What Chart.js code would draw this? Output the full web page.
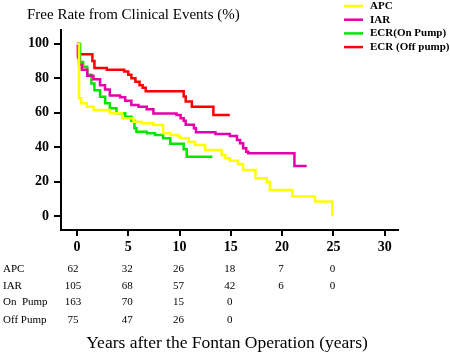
<!DOCTYPE html>
<html>
<head>
<meta charset="utf-8">
<script src="https://cdn.jsdelivr.net/npm/chart.js@4/dist/chart.umd.min.js"></script>
<style>
html,body{margin:0;padding:0;background:#fff;}
#wrap{width:450px;height:356px;}
</style>
</head>
<body>
<div id="wrap"><canvas id="c" width="450" height="356"></canvas></div>
<script>
// ---- data ----
const seriesLabels = ["APC", "IAR", "ECR(On Pump)", "ECR (Off pump)"];
const apcYears = [0, 0.2, 0.4, 0.95, 1.6, 3.2, 4.4, 5.5, 6.3, 7.45, 8.4, 9.1, 9.9, 10.1, 10.9, 11.5, 12.5, 14.1, 14.45, 14.9, 15.7, 16.2, 17.4, 18.5, 18.8, 21.0, 23.2, 24.9];
const apcValues = [100, 68.4, 65.5, 63.5, 61.6, 59.7, 56.8, 54.8, 53.9, 52.9, 48.1, 47.1, 46.1, 45.2, 43.2, 41.3, 38.4, 35.5, 33.6, 32.2, 30.3, 26.8, 22, 20, 15.2, 11.4, 8.5, 0];
const iarYears = [0, 0.1, 0.2, 0.46, 1.0, 1.6, 2.25, 2.73, 3.2, 4.2, 4.7, 5.3, 6.0, 6.8, 7.45, 9.7, 10.1, 10.4, 10.6, 11.4, 11.6, 13.5, 14.9, 15.6, 15.9, 16.2, 16.5, 16.7, 21.2, 22.4];
const iarValues = [100, 92, 88, 85, 81.5, 79.5, 76, 73.5, 70, 69, 67, 64.5, 63.5, 62, 59.5, 58.7, 56.8, 55.4, 53, 51, 48.7, 47.7, 46.5, 44.2, 42.3, 39.4, 37.4, 36.5, 29.1, 29.1];
const onPumpYears = [0, 0.3, 0.6, 1.0, 1.4, 1.7, 2.25, 2.75, 3.2, 3.85, 4.7, 5.3, 5.6, 5.8, 6.8, 7.6, 8.4, 9.1, 10.4, 10.7, 13.2];
const onPumpValues = [100, 89.5, 86.7, 82, 77, 73, 69.3, 65.5, 62.6, 59.7, 57.7, 55.4, 51, 49, 48.1, 47.1, 45.2, 42, 38.8, 34.5, 34.5];
const offPumpYears = [0, 0.1, 1.5, 1.7, 2.9, 4.6, 5.0, 5.3, 5.7, 6.1, 6.4, 6.7, 10.4, 10.6, 11.2, 13.3, 14.9];
const offPumpValues = [100, 94, 90, 86, 85, 84, 82, 80, 78, 76, 74.5, 72.5, 69.5, 66.5, 63.5, 58.7, 58.7];
const seriesColors = ["#FFFF00", "#E600AC", "#00E600", "#FF0000"];

const xTickValues = [0, 5, 10, 15, 20, 25, 30];
const yTickValues = [0, 20, 40, 60, 80, 100];

const yTitle = "Free Rate from Clinical Events (%)";
const xTitle = "Years after the Fontan Operation (years)";

// numbers at risk
const riskTimes = [0, 5, 10, 15, 20, 25];
const riskRowLabels = ["APC", "IAR", "On  Pump", "Off Pump"];
const riskAPC = [62, 32, 26, 18, 7, 0];
const riskIAR = [105, 68, 57, 42, 6, 0];
const riskOnPump = [163, 70, 15, 0];
const riskOffPump = [75, 47, 26, 0];
const riskRows = [riskAPC, riskIAR, riskOnPump, riskOffPump];

// ---- build ----
function pts(xs, ys){ return xs.map((x,i)=>({x:x, y:ys[i]})); }
const seriesData = [pts(apcYears, apcValues), pts(iarYears, iarValues), pts(onPumpYears, onPumpValues), pts(offPumpYears, offPumpValues)];

const SERIF = '"Liberation Serif", "DejaVu Serif", serif';

const textPlugin = {
  id: 'texts',
  afterDraw(chart){
    const ctx = chart.ctx;
    const xs = chart.scales.x;
    ctx.save();
    ctx.fillStyle = '#000';
    // y title (top)
    ctx.font = '15px ' + SERIF;
    ctx.textAlign = 'left';
    ctx.textBaseline = 'middle';
    ctx.fillText(yTitle, 27, 15);
    // legend
    chart.data.datasets.forEach((ds, i) => {
      const y = 6 + i * 13.7;
      ctx.strokeStyle = ds.borderColor;
      ctx.lineWidth = 2.5;
      ctx.beginPath();
      ctx.moveTo(344, y);
      ctx.lineTo(363, y);
      ctx.stroke();
      ctx.fillStyle = '#000';
      ctx.font = 'bold 11px ' + SERIF;
      ctx.textAlign = 'left';
      ctx.fillText(ds.label, 370, y);
    });
    // risk table
    const rowY = [269, 286, 302, 320];
    ctx.font = '11px ' + SERIF;
    riskRows.forEach((row, r) => {
      ctx.textAlign = 'left';
      ctx.fillText(riskRowLabels[r], 3, rowY[r]);
      ctx.textAlign = 'center';
      row.forEach((v, j) => {
        const px = xs.getPixelForValue(riskTimes[j]) - (j === 0 ? 4 : 1);
        ctx.fillText(String(v), px, rowY[r]);
      });
    });
    // x title
    ctx.font = '17.5px ' + SERIF;
    ctx.textAlign = 'center';
    ctx.fillText(xTitle, 227, 343);
    ctx.restore();
  }
};

new Chart(document.getElementById('c'), {
  type: 'line',
  data: {
    datasets: seriesData.map((d, i) => ({
      label: seriesLabels[i],
      data: d,
      borderColor: seriesColors[i],
      backgroundColor: seriesColors[i],
      borderWidth: 2.5,
      pointRadius: 0,
      stepped: true,
      fill: false,
      tension: 0
    }))
  },
  options: {
    responsive: false,
    animation: false,
    events: [],
    layout: { padding: { top: 30, right: 52, left: 0, bottom: 0 } },
    plugins: { legend: { display: false }, title: { display: false }, tooltip: { enabled: false } },
    scales: {
      x: {
        type: 'linear',
        min: -1.56,
        max: 31.3,
        afterBuildTicks: (s) => { s.ticks = xTickValues.map(v => ({ value: v })); },
        afterFit: (s) => { s.height = 126; },
        grid: { drawOnChartArea: false, drawTicks: true, tickLength: 6, color: '#000', lineWidth: 2 },
        border: { display: true, color: '#000', width: 2 },
        ticks: { color: '#000', padding: 3, font: { family: SERIF, size: 14, weight: 'bold' }, maxRotation: 0 }
      },
      y: {
        type: 'linear',
        min: -8,
        max: 108,
        afterBuildTicks: (s) => { s.ticks = yTickValues.map(v => ({ value: v })); },
        afterFit: (s) => { s.width = 61; },
        grid: { drawOnChartArea: false, drawTicks: true, tickLength: 7, color: '#000', lineWidth: 2 },
        border: { display: true, color: '#000', width: 2 },
        ticks: { color: '#000', padding: 5, font: { family: SERIF, size: 14, weight: 'bold' } }
      }
    }
  },
  plugins: [textPlugin]
});
</script>
</body>
</html>
